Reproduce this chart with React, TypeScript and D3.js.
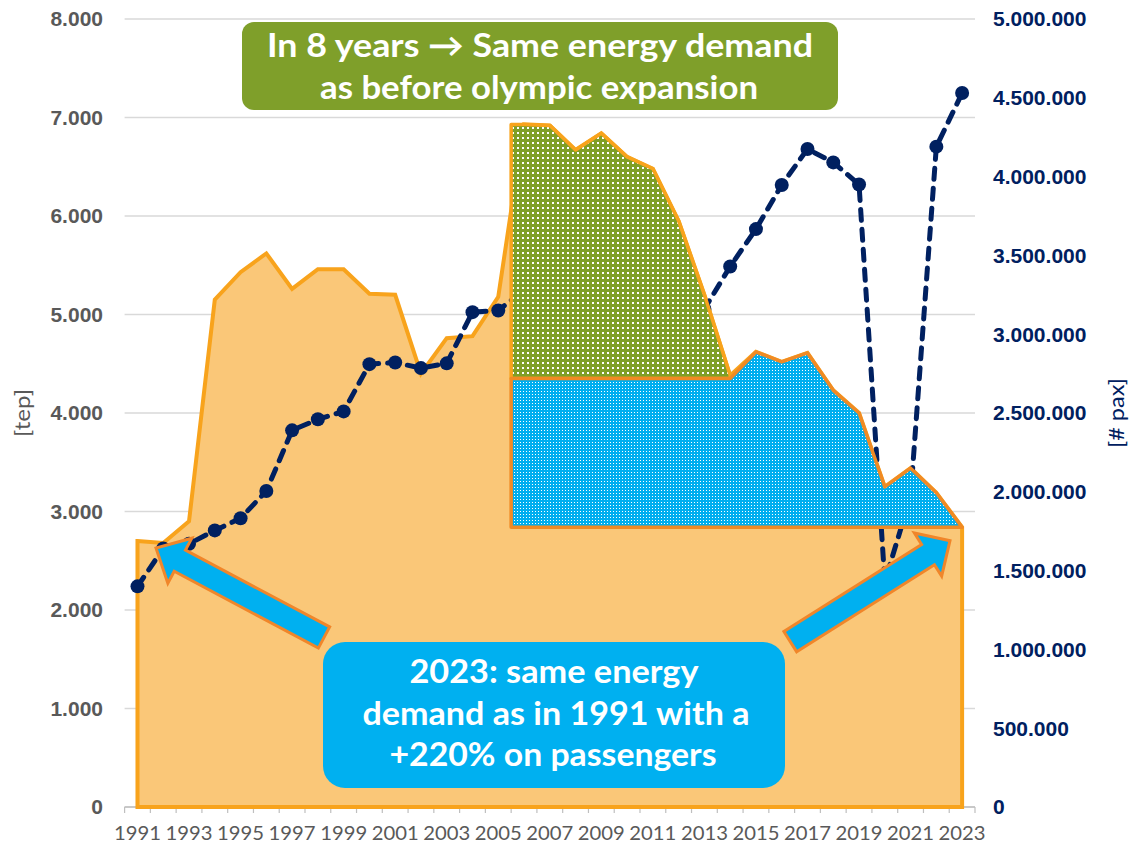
import React from 'react';
import * as d3 from 'd3';

const years = [1991, 1992, 1993, 1994, 1995, 1996, 1997, 1998, 1999, 2000, 2001, 2002, 2003, 2004, 2005, 2006, 2007, 2008, 2009, 2010, 2011, 2012, 2013, 2014, 2015, 2016, 2017, 2018, 2019, 2020, 2021, 2022, 2023];
const energyTep = [2700, 2680, 2900, 5150, 5430, 5620, 5260, 5460, 5460, 5210, 5200, 4400, 4760, 4780, 5180, 6930, 6920, 6670, 6840, 6600, 6480, 5950, 5200, 4380, 4620, 4520, 4610, 4230, 4000, 3250, 3440, 3190, 2840];
const passengers = [1400000, 1640000, 1670000, 1755000, 1832000, 2005000, 2390000, 2460000, 2510000, 2810000, 2820000, 2785000, 2815000, 3140000, 3150000, 3280000, 3500000, 3400000, 3230000, 3560000, 3710000, 3520000, 3160000, 3430000, 3667000, 3947000, 4175000, 4090000, 3950000, 1430000, 1970000, 4190000, 4530000];
const leftTicks = [0, 1000, 2000, 3000, 4000, 5000, 6000, 7000, 8000];
const rightTicks = [0, 500000, 1000000, 1500000, 2000000, 2500000, 3000000, 3500000, 4000000, 4500000, 5000000];
const xLabelYears = [1991, 1993, 1995, 1997, 1999, 2001, 2003, 2005, 2007, 2009, 2011, 2013, 2015, 2017, 2019, 2021, 2023];
const expansionStart = 2006;
const expansionEnd = 2014;
const preOlympicLevel = 4350;
const greenTitle = ['In 8 years \u2192 Same energy demand', 'as before olympic expansion'];
const blueTitle = ['2023: same energy', 'demand as in 1991 with a', '+220% on passengers'];

const W = 1130;
const H = 847;
const plot = { left: 124.6, right: 975, top: 19, bottom: 807 };

const locale = d3.formatLocale({ decimal: ',', thousands: '.', grouping: [3], currency: ['', ''] });
const fmt = locale.format(',');

function arrowPoints(tail: number[], tip: number[], sw: number, hw: number, hl: number) {
  const dx = tip[0] - tail[0];
  const dy = tip[1] - tail[1];
  const L = Math.hypot(dx, dy);
  const ux = dx / L, uy = dy / L;
  const px = -uy, py = ux;
  const bx = tip[0] - ux * hl, by = tip[1] - uy * hl;
  const pts = [
    [tail[0] + px * sw / 2, tail[1] + py * sw / 2],
    [bx + px * sw / 2, by + py * sw / 2],
    [bx + px * hw / 2, by + py * hw / 2],
    [tip[0], tip[1]],
    [bx - px * hw / 2, by - py * hw / 2],
    [bx - px * sw / 2, by - py * sw / 2],
    [tail[0] - px * sw / 2, tail[1] - py * sw / 2],
  ];
  return pts.map((p) => p.join(',')).join(' ');
}

export default function App() {
  const x = d3.scaleBand<number>().domain(years).range([plot.left, plot.right]).padding(0);
  const bw = x.bandwidth();
  const xc = (yr: number) => (x(yr) as number) + bw / 2;
  const yL = d3.scaleLinear().domain([0, 8000]).range([plot.bottom, plot.top]);
  const yR = d3.scaleLinear().domain([0, 5000000]).range([plot.bottom, plot.top]);

  const energyData = years.map((yr, i) => ({ yr, v: energyTep[i] }));
  const paxData = years.map((yr, i) => ({ yr, v: passengers[i] }));

  const areaPath = d3.area<{ yr: number; v: number }>()
    .x((d) => xc(d.yr))
    .y0(yL(0))
    .y1((d) => yL(d.v))(energyData) as string;

  const baseLevel = energyTep[energyTep.length - 1];
  const startX = x(expansionStart) as number;
  const startVal = energyTep[years.indexOf(expansionStart)];

  type P = { px: number; v: number; yr: number };
  const greenPts: P[] = [{ px: startX, v: startVal, yr: expansionStart }].concat(
    energyData.filter((d) => d.yr >= expansionStart && d.yr <= expansionEnd).map((d) => ({ px: xc(d.yr), v: d.v, yr: d.yr }))
  );
  const greenPath = d3.area<P>()
    .x((d) => d.px)
    .y0(yL(preOlympicLevel))
    .y1((d) => yL(Math.max(d.v, preOlympicLevel)))(greenPts) as string;

  const bluePts: P[] = [{ px: startX, v: startVal, yr: expansionStart }].concat(
    energyData.filter((d) => d.yr >= expansionStart).map((d) => ({ px: xc(d.yr), v: d.v, yr: d.yr }))
  );
  const bluePath = d3.area<P>()
    .x((d) => d.px)
    .y0(yL(baseLevel))
    .y1((d) => yL(d.yr <= expansionEnd ? Math.min(d.v, preOlympicLevel) : d.v))(bluePts) as string;

  const linePath = d3.line<{ yr: number; v: number }>()
    .x((d) => xc(d.yr))
    .y((d) => yR(d.v))(paxData) as string;

  const navy = '#002060';
  const grey = '#595959';

  return (
    <svg width={W} height={H} style={{ position: 'absolute', left: 0, top: 0, background: '#fff' }}>
      <defs>
        <pattern id="dotsGreen" width="5" height="5" patternUnits="userSpaceOnUse">
          <rect width="5" height="5" fill="#7F9F27" />
          <rect x="2" y="2" width="2" height="2" fill="#ffffff" />
        </pattern>
        <pattern id="dotsBlue" width="3" height="3" patternUnits="userSpaceOnUse">
          <rect width="3" height="3" fill="#00AEEF" />
          <rect x="1" y="1" width="1" height="1" fill="#ffffff" />
        </pattern>
      </defs>

      {/* gridlines */}
      {leftTicks.map((t) => (
        <line key={'g' + t} x1={plot.left} x2={plot.right} y1={yL(t)} y2={yL(t)} stroke="#D9D9D9" strokeWidth={1.5} />
      ))}

      {/* x axis line & ticks */}
      <line x1={plot.left} x2={plot.right} y1={plot.bottom} y2={plot.bottom} stroke="#BFBFBF" strokeWidth={1.5} />
      {years.concat([2024]).map((yr, i) => {
        const xx = plot.left + i * bw;
        return <line key={'t' + yr} x1={xx} x2={xx} y1={plot.bottom} y2={plot.bottom + 6} stroke="#BFBFBF" strokeWidth={1.2} />;
      })}

      {/* energy area */}
      <path d={areaPath + 'Z'} fill="#FAC778" stroke="#F8A31C" strokeWidth={4} strokeLinejoin="miter" />

      {/* passengers line */}
      <path d={linePath} fill="none" stroke={navy} strokeWidth={5} strokeDasharray="11 9" strokeLinecap="round" />
      {paxData.map((d) => (
        <circle key={'c' + d.yr} cx={xc(d.yr)} cy={yR(d.v)} r={7} fill={navy} />
      ))}

      {/* expansion overlays */}
      <path d={greenPath} fill="url(#dotsGreen)" stroke="#F8A31C" strokeWidth={3.5} strokeLinejoin="round" />
      <path d={bluePath} fill="url(#dotsBlue)" stroke="#F08A24" strokeWidth={3.5} strokeLinejoin="round" />

      {/* left axis labels */}
      {leftTicks.map((t) => (
        <text key={'l' + t} x={103} y={yL(t)} dy="0.35em" textAnchor="end" fontFamily="Liberation Sans, Arial, sans-serif" fontWeight="bold" fontSize={21} fill={grey}>
          {fmt(t)}
        </text>
      ))}
      {/* right axis labels */}
      {rightTicks.map((t) => (
        <text key={'r' + t} x={993} y={yR(t)} dy="0.35em" textAnchor="start" fontFamily="Liberation Sans, Arial, sans-serif" fontWeight="bold" fontSize={21} fill={navy}>
          {fmt(t)}
        </text>
      ))}
      {/* x labels */}
      {xLabelYears.map((yr) => (
        <text key={'x' + yr} x={xc(yr)} y={840} textAnchor="middle" fontFamily="Lato, sans-serif" fontSize={20} fill={grey} textLength={47} lengthAdjust="spacingAndGlyphs">
          {yr}
        </text>
      ))}
      {/* axis titles */}
      <text transform={`translate(30,${413}) rotate(-90)`} textAnchor="middle" fontFamily="Lato, sans-serif" fontSize={22} fill={grey} textLength={48} lengthAdjust="spacingAndGlyphs">[tep]</text>
      <text transform={`translate(1124,${413}) rotate(-90)`} textAnchor="middle" fontFamily="Lato, sans-serif" fontSize={22} fill={navy} textLength={70} lengthAdjust="spacingAndGlyphs">[# pax]</text>

      {/* green box */}
      <rect x={242} y={22} width={596} height={88} rx={12} fill="#7F9F2A" />
      <text x={540} y={57} textAnchor="middle" fontFamily="Lato, sans-serif" fontWeight="bold" fontSize={33} fill="#fff" textLength={546} lengthAdjust="spacingAndGlyphs">{greenTitle[0]}</text>
      <text x={539} y={99} textAnchor="middle" fontFamily="Lato, sans-serif" fontWeight="bold" fontSize={33} fill="#fff" textLength={438} lengthAdjust="spacingAndGlyphs">{greenTitle[1]}</text>

      {/* blue box */}
      <rect x={323} y={642} width={462} height={146} rx={22} fill="#00B0F0" />
      <text x={554} y={683} textAnchor="middle" fontFamily="Lato, sans-serif" fontWeight="bold" fontSize={32} fill="#fff" textLength={289} lengthAdjust="spacingAndGlyphs">{blueTitle[0]}</text>
      <text x={556} y={725} textAnchor="middle" fontFamily="Lato, sans-serif" fontWeight="bold" fontSize={32} fill="#fff" textLength={387} lengthAdjust="spacingAndGlyphs">{blueTitle[1]}</text>
      <text x={553} y={766} textAnchor="middle" fontFamily="Lato, sans-serif" fontWeight="bold" fontSize={32} fill="#fff" textLength={327} lengthAdjust="spacingAndGlyphs">{blueTitle[2]}</text>

      {/* arrows */}
      <polygon points={arrowPoints([324, 637.5], [156, 548], 24, 51, 27)} fill="#00B0F0" stroke="#F0862A" strokeWidth={3} strokeLinejoin="miter" />
      <polygon points={arrowPoints([790.3, 641.7], [950, 540.7], 24, 51, 26)} fill="#00B0F0" stroke="#F0862A" strokeWidth={3} strokeLinejoin="miter" />
    </svg>
  );
}
